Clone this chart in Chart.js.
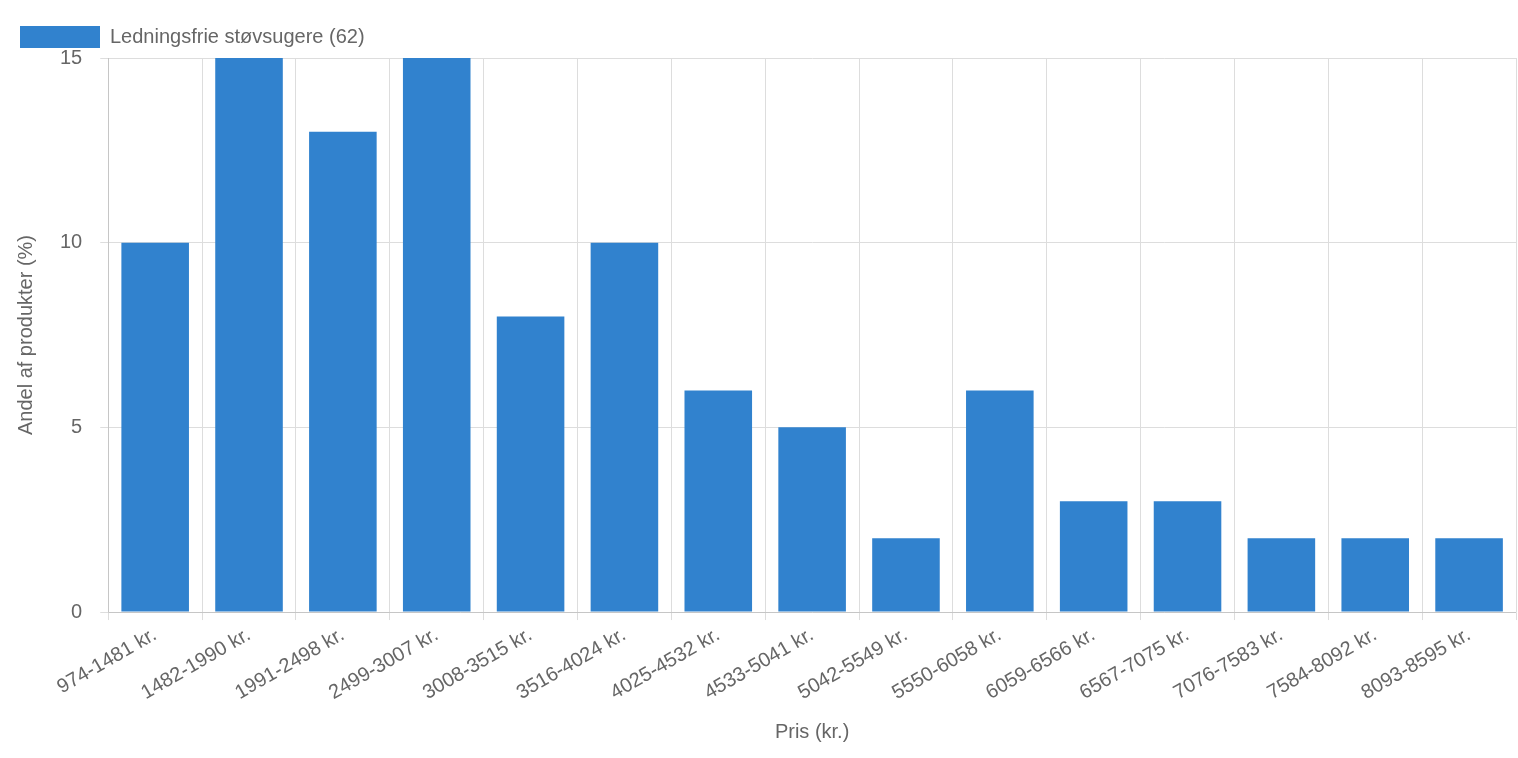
<!DOCTYPE html>
<html>
<head>
<meta charset="utf-8">
<script src="https://cdn.jsdelivr.net/npm/chart.js@4"></script>
<style>
  html, body { margin: 0; padding: 0; background: #fff; }
  #wrap { width: 1518px; height: 758px; }
</style>
</head>
<body>
<div id="wrap"><canvas id="chart"></canvas></div>
<script>
// price ranges and share of products
const categories = ['974-1481 kr.', '1482-1990 kr.', '1991-2498 kr.', '2499-3007 kr.', '3008-3515 kr.',
  '3516-4024 kr.', '4025-4532 kr.', '4533-5041 kr.', '5042-5549 kr.', '5550-6058 kr.',
  '6059-6566 kr.', '6567-7075 kr.', '7076-7583 kr.', '7584-8092 kr.', '8093-8595 kr.'];
const shares = [10, 16, 13, 16, 8, 10, 6, 5, 2, 6, 3, 3, 2, 2, 2];
const seriesLabel = 'Ledningsfrie støvsugere (62)';

const textColor = '#666';
Chart.defaults.font.family = 'Helvetica, Arial, "Liberation Sans", sans-serif';
Chart.defaults.font.size = 20;
Chart.defaults.color = textColor;

new Chart(document.getElementById('chart').getContext('2d'), {
  type: 'bar',
  data: {
    labels: categories,
    datasets: [{
      label: seriesLabel,
      data: shares,
      backgroundColor: '#3182ce',
      barPercentage: 0.72,
      categoryPercentage: 1
    }]
  },
  options: {
    responsive: true,
    maintainAspectRatio: false,
    animation: false,
    layout: { padding: { left: 10, right: 2, top: 16, bottom: 10 } },
    plugins: {
      legend: {
        align: 'start',
        labels: { boxWidth: 80, boxHeight: 22, padding: 10, color: textColor }
      },
      tooltip: { enabled: false }
    },
    scales: {
      x: {
        grid: { color: '#ddd', offset: true },
        ticks: { maxRotation: 30, minRotation: 30 },
        title: { display: true, text: 'Pris (kr.)', padding: { top: 12 } }
      },
      y: {
        min: 0,
        max: 15,
        ticks: { stepSize: 5, padding: 18 },
        grid: { color: '#ddd' },
        title: { display: true, text: 'Andel af produkter (%)' }
      }
    }
  }
});
</script>
</body>
</html>
